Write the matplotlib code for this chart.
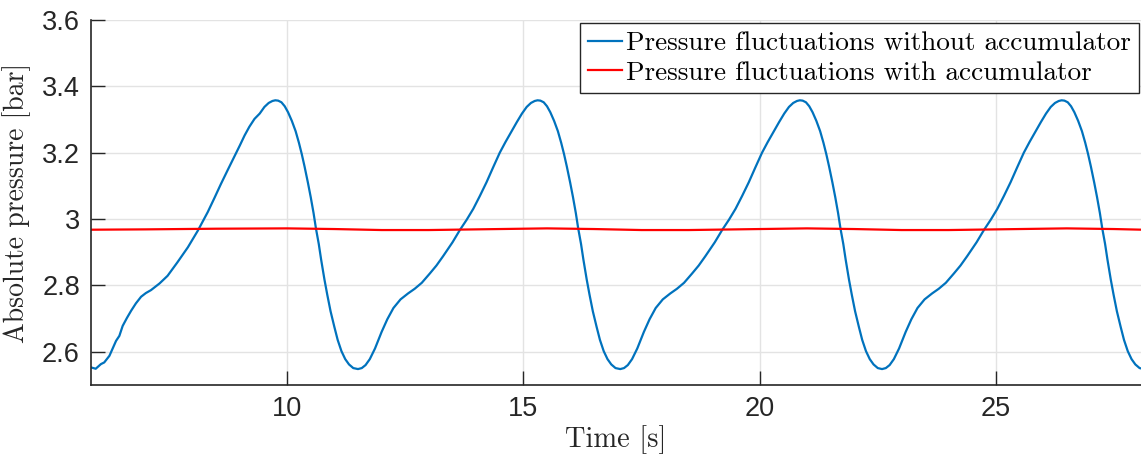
import matplotlib
matplotlib.use("Agg")
import matplotlib.pyplot as plt

# blue trace (without accumulator)
t_seg1 = [5.85, 5.95, 6.06, 6.13, 6.24, 6.38, 6.45, 6.52, 6.61, 6.70, 6.80, 6.91, 7.01,
          7.12, 7.30, 7.47, 7.68, 7.90, 8.11, 8.32, 8.46, 8.60, 8.74, 8.88, 9.00, 9.10,
          9.20, 9.31, 9.42, 9.52, 9.61, 9.69, 9.75, 9.81, 9.88, 9.95, 10.02, 10.10,
          10.18, 10.25, 10.31, 10.37, 10.44, 10.50, 10.56, 10.61, 10.67, 10.72, 10.79,
          10.85, 10.92, 11.00, 11.07, 11.15, 11.23, 11.31, 11.40]
p_seg1 = [2.553, 2.549, 2.563, 2.568, 2.588, 2.633, 2.648, 2.678, 2.702, 2.724, 2.746, 2.766, 2.777,
          2.786, 2.806, 2.829, 2.870, 2.915, 2.965, 3.021, 3.063, 3.106, 3.147, 3.187, 3.222, 3.252,
          3.278, 3.302, 3.318, 3.338, 3.350, 3.356, 3.358, 3.357, 3.352, 3.340, 3.322, 3.296,
          3.265, 3.230, 3.196, 3.158, 3.110, 3.066, 3.018, 2.972, 2.925, 2.878, 2.818,
          2.772, 2.722, 2.675, 2.636, 2.602, 2.578, 2.562, 2.551]

# one full swing (trough to trough) as it appears in the picture
p_cycle = [2.548, 2.551, 2.560, 2.578, 2.610, 2.660, 2.698, 2.732, 2.758, 2.776,
           2.790, 2.808, 2.836, 2.860, 2.888, 2.930, 2.968, 2.998, 3.031, 3.070,
           3.111, 3.156, 3.200, 3.232, 3.262, 3.292, 3.318, 3.338, 3.350, 3.356,
           3.358, 3.357, 3.352, 3.340, 3.322, 3.296, 3.265, 3.230, 3.196, 3.158,
           3.110, 3.066, 3.018, 2.972, 2.925, 2.878, 2.818, 2.772, 2.722, 2.675,
           2.636, 2.602, 2.578, 2.562, 2.551]

t_seg2 = [11.50, 11.58, 11.66, 11.75, 11.86, 12.00, 12.12, 12.25, 12.40, 12.56,
          12.70, 12.85, 13.02, 13.16, 13.30, 13.50, 13.66, 13.80, 13.94, 14.08,
          14.22, 14.36, 14.50, 14.62, 14.74, 14.86, 14.97, 15.07, 15.16, 15.24,
          15.30, 15.36, 15.43, 15.50, 15.57, 15.65, 15.73, 15.80, 15.86, 15.92,
          15.99, 16.05, 16.11, 16.16, 16.22, 16.27, 16.34, 16.40, 16.47, 16.55,
          16.62, 16.70, 16.78, 16.86, 16.95]
t_seg3 = [17.05, 17.13, 17.21, 17.30, 17.41, 17.55, 17.67, 17.80, 17.95, 18.11,
          18.25, 18.40, 18.57, 18.71, 18.85, 19.05, 19.21, 19.35, 19.49, 19.63,
          19.77, 19.91, 20.05, 20.17, 20.29, 20.41, 20.52, 20.62, 20.71, 20.79,
          20.85, 20.91, 20.98, 21.05, 21.12, 21.20, 21.28, 21.35, 21.41, 21.47,
          21.54, 21.60, 21.66, 21.71, 21.77, 21.82, 21.89, 21.95, 22.02, 22.10,
          22.17, 22.25, 22.33, 22.41, 22.50]
t_seg4 = [22.59, 22.67, 22.75, 22.84, 22.95, 23.09, 23.21, 23.34, 23.49, 23.65,
          23.79, 23.94, 24.11, 24.25, 24.39, 24.59, 24.75, 24.89, 25.03, 25.17,
          25.31, 25.45, 25.59, 25.71, 25.83, 25.95, 26.06, 26.16, 26.25, 26.33,
          26.39, 26.45, 26.52, 26.59, 26.66, 26.74, 26.82, 26.89, 26.95, 27.01,
          27.08, 27.14, 27.20, 27.25, 27.31, 27.36, 27.43, 27.49, 27.56, 27.64,
          27.71, 27.79, 27.87, 27.95, 28.04]
t_end = [28.10]
p_end = [2.549]

time_no_acc = t_seg1 + t_seg2 + t_seg3 + t_seg4 + t_end
p_no_acc = p_seg1 + p_cycle + p_cycle + p_cycle + p_end

# red trace (with accumulator), almost flat
time_acc = [5.85, 7.0, 8.5, 10.0, 11.0, 12.0, 13.0, 14.0, 15.5, 16.5, 17.5,
            18.5, 19.5, 21.0, 22.0, 23.0, 24.0, 25.0, 26.5, 27.5, 28.1]
p_acc = [2.968, 2.969, 2.971, 2.972, 2.970, 2.967, 2.967, 2.969, 2.972, 2.970, 2.967,
         2.967, 2.969, 2.972, 2.970, 2.967, 2.967, 2.969, 2.972, 2.970, 2.968]

x_ticks = [10, 15, 20, 25]
y_ticks = [2.6, 2.8, 3.0, 3.2, 3.4, 3.6]
y_tick_labels = ["2.6", "2.8", "3", "3.2", "3.4", "3.6"]

label_font = "cmr10"
dark = "#262626"

fig = plt.figure(figsize=(11.41, 4.59), dpi=100)
ax = fig.add_axes([91 / 1141, 1 - 385 / 459, 1050 / 1141, 365 / 459])

ax.plot(time_no_acc, p_no_acc, color="#0072BD", lw=1.6,
        label="Pressure fluctuations without accumulator")
ax.plot(time_acc, p_acc, color="#FF0000", lw=1.6,
        label="Pressure fluctuations with accumulator")

ax.set_xlim(5.85, 28.07)
ax.set_ylim(2.5, 3.6)
ax.set_xticks(x_ticks)
ax.set_yticks(y_ticks)
ax.set_yticklabels(y_tick_labels)
ax.grid(True, color="#e3e3e3", lw=1.0)
ax.set_axisbelow(True)

for side in ["top", "right"]:
    ax.spines[side].set_visible(False)
for side in ["left", "bottom"]:
    ax.spines[side].set_color(dark)
    ax.spines[side].set_linewidth(1.2)

ax.tick_params(direction="in", length=10, width=1.0, color=dark,
               labelcolor=dark, labelsize=19.5, pad=8)
for lab in ax.get_xticklabels() + ax.get_yticklabels():
    lab.set_fontfamily("Liberation Sans")

ax.set_xlabel("Time [s]", fontfamily=label_font, fontsize=20.5, color=dark, labelpad=2)
ax.set_ylabel("Absolute pressure [bar]", fontfamily=label_font, fontsize=20,
              color=dark, labelpad=8)

leg = ax.legend(loc="upper right", bbox_to_anchor=(0.998, 0.992), borderaxespad=0,
                prop={"family": label_font, "size": 19.6}, fancybox=False,
                framealpha=1, edgecolor=dark, handlelength=1.25, handletextpad=0.15,
                borderpad=0.3, labelspacing=0.2)
leg.get_frame().set_linewidth(1.0)

fig.savefig("out.png", dpi=100)
